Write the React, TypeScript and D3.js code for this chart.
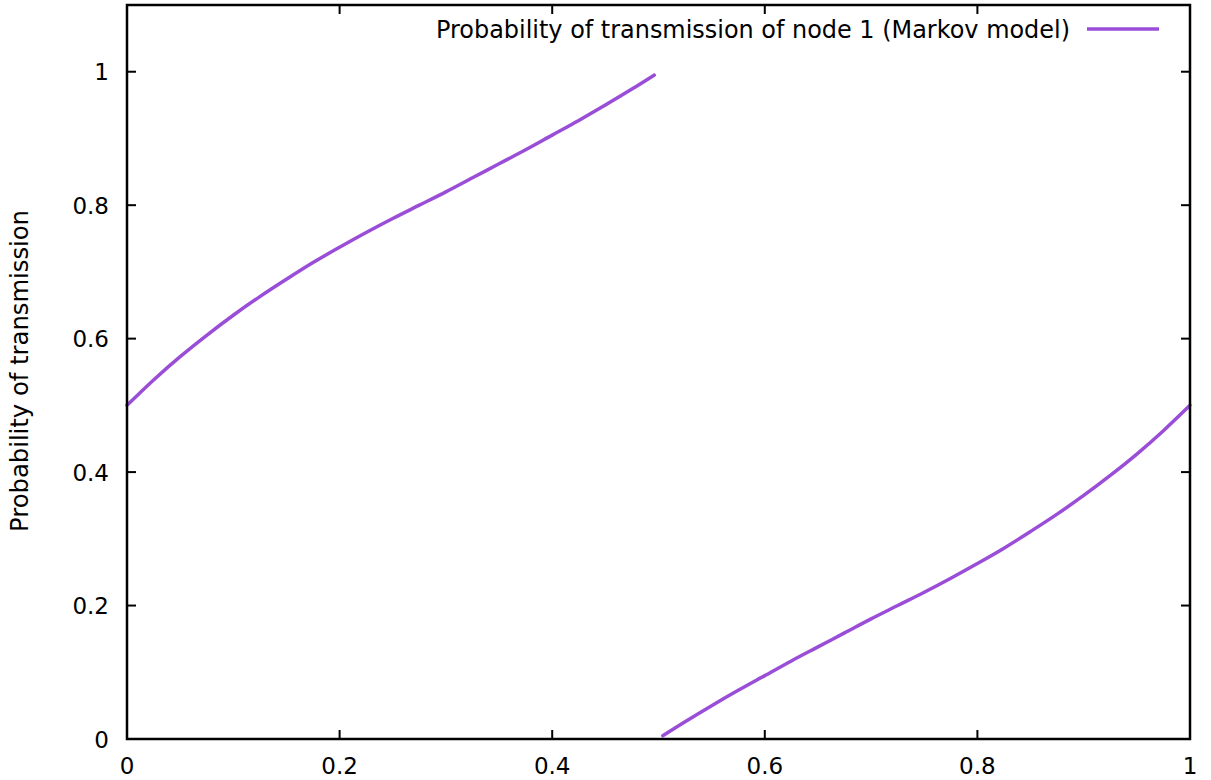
import React from "react";
import * as d3 from "d3";

const xTicks = [0, 0.2, 0.4, 0.6, 0.8, 1];
const yTicks = [0, 0.2, 0.4, 0.6, 0.8, 1];
const xTickLabels = ["0", "0.2", "0.4", "0.6", "0.8", "1"];
const yTickLabels = ["0", "0.2", "0.4", "0.6", "0.8", "1"];

const branch1X = [0, 0.025, 0.05, 0.075, 0.1, 0.125, 0.15, 0.175, 0.2, 0.225, 0.25, 0.275, 0.3, 0.325, 0.35, 0.375, 0.4, 0.425, 0.45, 0.475, 0.496];
const branch1Y = [0.5, 0.538, 0.573, 0.605, 0.635, 0.663, 0.689, 0.714, 0.737, 0.759, 0.78, 0.8, 0.82, 0.841, 0.862, 0.883, 0.905, 0.927, 0.95, 0.974, 0.995];
const branch2X = [0.504, 0.525, 0.55, 0.575, 0.6, 0.625, 0.65, 0.675, 0.7, 0.725, 0.75, 0.775, 0.8, 0.825, 0.85, 0.875, 0.9, 0.925, 0.95, 0.975, 1.0];
const branch2Y = [0.005, 0.026, 0.05, 0.073, 0.095, 0.117, 0.138, 0.159, 0.18, 0.2, 0.22, 0.241, 0.263, 0.286, 0.311, 0.337, 0.365, 0.395, 0.427, 0.462, 0.5];

const seriesLabel = "Probability of transmission of node 1 (Markov model)";
const yAxisTitle = "Probability of transmission";

export default function App() {
  const W = 1211, H = 780;
  const left = 127, right = 1190, top = 5, bottom = 739;
  const x = d3.scaleLinear().domain([0, 1]).range([left, right]);
  const y = d3.scaleLinear().domain([0, 1.1]).range([bottom, top]);
  const line = d3
    .line<[number, number]>()
    .x((d) => x(d[0]))
    .y((d) => y(d[1]))
    .curve(d3.curveMonotoneX);
  const b1 = branch1X.map((v, i) => [v, branch1Y[i]] as [number, number]);
  const b2 = branch2X.map((v, i) => [v, branch2Y[i]] as [number, number]);
  const color = "#9a4ed8";
  const font = "'DejaVu Sans', sans-serif";
  const tl = 9;
  return (
    <svg width={W} height={H} style={{ position: "absolute", left: 0, top: 0, background: "#fff" }} fontFamily={font}>
      <rect x={0} y={0} width={W} height={H} fill="#fff" />
      <path d={line(b1) || ""} fill="none" stroke={color} strokeWidth={3.5} strokeLinecap="round" />
      <path d={line(b2) || ""} fill="none" stroke={color} strokeWidth={3.5} strokeLinecap="round" />
      {xTicks.map((t, i) => (
        <g key={"x" + i}>
          <line x1={x(t)} x2={x(t)} y1={bottom} y2={bottom - tl} stroke="#000" strokeWidth={2} />
          <line x1={x(t)} x2={x(t)} y1={top} y2={top + tl} stroke="#000" strokeWidth={2} />
          <text x={x(t)} y={774} textAnchor="middle" fontSize={23} fill="#000">{xTickLabels[i]}</text>
        </g>
      ))}
      {yTicks.map((t, i) => (
        <g key={"y" + i}>
          <line x1={left} x2={left + tl} y1={y(t)} y2={y(t)} stroke="#000" strokeWidth={2} />
          <line x1={right} x2={right - tl} y1={y(t)} y2={y(t)} stroke="#000" strokeWidth={2} />
          <text x={109} y={y(t) + 8.5} textAnchor="end" fontSize={23} fill="#000">{yTickLabels[i]}</text>
        </g>
      ))}
      <rect x={left} y={top} width={right - left} height={bottom - top} fill="none" stroke="#000" strokeWidth={2.5} />
      <text x={1070} y={38} textAnchor="end" fontSize={24} fill="#000" textLength={634} lengthAdjust="spacingAndGlyphs">{seriesLabel}</text>
      <line x1={1087} x2={1159} y1={29} y2={29} stroke={color} strokeWidth={3.5} />
      <text transform={`translate(28,${371}) rotate(-90)`} textAnchor="middle" fontSize={24} fill="#000" textLength={322} lengthAdjust="spacingAndGlyphs">{yAxisTitle}</text>
    </svg>
  );
}
